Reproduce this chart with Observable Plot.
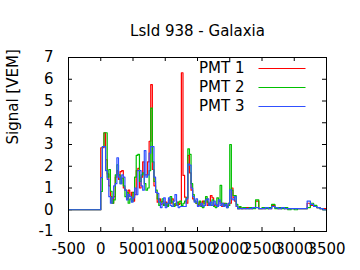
<!DOCTYPE html>
<html><head><meta charset="utf-8">
<script src="https://cdn.jsdelivr.net/npm/d3@7"></script>
<script src="https://cdn.jsdelivr.net/npm/@observablehq/plot@0.6"></script>
<style>html,body{margin:0;padding:0;background:#fff} svg{display:block}</style>
</head><body><div id="chart"></div>
<script>
const title = "LsId 938 - Galaxia";
const yLabel = "Signal [VEM]";
const seriesNames = ["PMT 1", "PMT 2", "PMT 3"];
const seriesColors = ["#ff0000", "#00c000", "#3050ff"];
const xTicks = [-500, 0, 500, 1000, 1500, 2000, 2500, 3000, 3500];
const yTicks = [-1, 0, 1, 2, 3, 4, 5, 6, 7];
const traceEnd = 3500;
const binStart = [-500,
  0, 25, 50, 75, 100, 125, 150, 175, 200, 225, 250, 275, 300, 325, 350, 375, 400, 425, 450, 475,
  500, 525, 550, 575, 600, 625, 650, 675, 700, 725, 750, 775, 800, 825, 850, 875, 900, 925, 950, 975,
  1000, 1025, 1050, 1075, 1100, 1125, 1150, 1175, 1200, 1225, 1250, 1275, 1300, 1325, 1350, 1375, 1400, 1425, 1450, 1475,
  1500, 1525, 1550, 1575, 1600, 1625, 1650, 1675, 1700, 1725, 1750, 1775, 1800, 1825, 1850, 1875, 1900, 1925, 1950, 1975,
  2000, 2025, 2050, 2075, 2100, 2125, 2150, 2175,
  2200, 2250, 2300, 2350, 2400, 2450, 2500, 2550, 2600, 2650, 2700, 2750, 2800, 2850, 2900, 2950,
  3000, 3050, 3100, 3150, 3200, 3250, 3300, 3350, 3400, 3450];
const pmt1 = [0,
  2.85, 2.85, 3.54, 2.3, 1.65, 1.1, 0.6, 0.3, 0.6, 1.5, 1.8, 1.4, 1.75, 1.8, 1.0, 0.9, 0.5, 0.9, 0.6, 0.8,
  0.4, 0.7, 1.8, 1.9, 1.0, 1.5, 2.2, 1.6, 1.6, 2.2, 3.15, 5.75, 1.85, 1.1, 0.8, 0.35, 0.5, 0.25, 0.4, 0.2,
  0.35, 0.2, 0.45, 0.3, 0.5, 0.25, 0.2, 0.35, 0.25, 0.3, 6.3, 1.58, 0.58, 0.3, 2.5, 1.7, 0.9, 0.5, 0.4, 0.3,
  0.2, 0.35, 0.2, 0.4, 0.3, 0.5, 0.2, 0.3, 0.65, 0.55, 0.2, 0.25, 0.15, 0.4, 0.3, 0.15, 0.3, 0.2, 0.15, 0.3,
  0.3, 1.0, 0.55, 0.4, 0.15, 0.05, 0.1, 0.05,
  0.05, 0.1, 0.05, 0.1, 0.4, 0.05, 0.05, 0.1, 0.05, 0.2, 0.1, 0.05, 0.1, 0.05, 0.05, 0.05,
  0.05, 0.05, 0.05, 0.05, 0.3, 0.2, 0.15, 0.1, 0.05, 0.05];
const pmt2 = [0,
  0.84, 2.9, 3.54, 3.54, 1.5, 1.85, 0.85, 0.3, 0.45, 1.6, 2.07, 1.6, 1.2, 1.45, 1.1, 0.6, 0.8, 0.3, 0.5, 0.4,
  0.8, 1.5, 2.5, 2.55, 1.3, 1.6, 1.7, 1.2, 0.9, 1.0, 1.8, 4.67, 2.2, 1.3, 0.9, 0.5, 0.2, 0.35, 0.5, 0.2,
  0.3, 0.15, 0.3, 0.6, 0.35, 0.15, 0.3, 0.2, 0.35, 0.4, 0.2, 0.3, 0.4, 0.55, 2.8, 2.55, 1.2, 0.7, 0.4, 0.3,
  0.25, 0.4, 0.15, 0.1, 0.4, 0.6, 0.35, 0.25, 0.2, 0.45, 0.15, 0.1, 0.55, 0.4, 1.12, 0.3, 0.2, 0.3, 0.1, 0.2,
  3.0, 0.9, 0.65, 0.65, 0.25, 0.05, 0.15, 0.05,
  0.1, 0.05, 0.1, 0.05, 0.45, 0.05, 0.1, 0.05, 0.1, 0.25, 0.05, 0.1, 0.05, 0.1, 0.0, 0.05,
  0.0, 0.05, 0.05, 0.05, 0.1, 0.3, 0.2, 0.1, 0.05, 0.0];
const pmt3 = [0,
  1.48, 2.9, 2.9, 1.8, 1.4, 0.6, 0.3, 0.55, 1.1, 1.2, 2.39, 1.5, 1.2, 1.6, 1.5, 0.9, 0.45, 0.7, 0.6, 0.35,
  0.55, 1.0, 0.7, 1.8, 1.8, 1.1, 0.9, 2.72, 1.5, 1.6, 2.6, 2.9, 2.9, 1.5, 0.8, 0.75, 0.35, 0.1, 0.3, 0.55,
  0.1, 0.3, 0.55, 0.2, 0.15, 0.4, 0.7, 0.2, 0.1, 0.15, 0.15, 0.15, 0.15, 0.5, 2.1, 2.05, 1.0, 0.6, 0.35, 0.5,
  0.15, 0.2, 0.3, 0.15, 0.2, 0.45, 0.5, 0.2, 0.35, 0.2, 0.4, 0.25, 0.15, 0.45, 0.2, 0.3, 0.15, 0.25, 0.1, 0.3,
  0.92, 0.5, 0.45, 0.6, 0.15, 0.05, 0.05, 0.05,
  0.05, 0.05, 0.05, 0.1, 0.1, 0.05, 0.05, 0.1, 0.05, 0.15, 0.1, 0.05, 0.1, 0.05, 0.05, 0.05,
  0.05, 0.05, 0.05, 0.05, 0.4, 0.25, 0.15, 0.1, 0.05, 0.0];

const seriesValues = [pmt1, pmt2, pmt3];
const rows = [];
seriesNames.forEach((name, k) => {
  const vals = seriesValues[k];
  binStart.forEach((t, i) => rows.push({t, v: vals[i], s: name}));
  rows.push({t: traceEnd, v: vals[vals.length - 1], s: name});
});

const W = 360, H = 270, mL = 68, mR = 34, mT = 57, mB = 39;
const frameW = W - mL - mR, frameH = H - mT - mB, tick = 4;
const px = d3.scaleLinear([xTicks[0], xTicks[xTicks.length - 1]], [mL, W - mR]);
const py = d3.scaleLinear([yTicks[0], yTicks[yTicks.length - 1]], [H - mB, mT]);
const legend = seriesNames.map((name, i) => ({
  name,
  tx: px.invert(244), x1: px.invert(258), x2: px.invert(305), y: py.invert(68 + 19 * i)
}));

const chart = Plot.plot({
  width: W, height: H,
  marginLeft: mL, marginRight: mR, marginTop: mT, marginBottom: mB,
  style: {fontFamily: "'DejaVu Sans', sans-serif", fontSize: "15px", color: "black", background: "white"},
  x: {domain: [xTicks[0], xTicks[xTicks.length - 1]]},
  y: {domain: [yTicks[0], yTicks[yTicks.length - 1]]},
  color: {domain: seriesNames, range: seriesColors},
  marks: [
    Plot.ruleX(xTicks, {insetTop: frameH - tick, stroke: "black"}),
    Plot.ruleX(xTicks, {insetBottom: frameH - tick, stroke: "black"}),
    Plot.ruleY(yTicks, {insetRight: frameW - tick, stroke: "black"}),
    Plot.ruleY(yTicks, {insetLeft: frameW - tick, stroke: "black"}),
    Plot.axisX({ticks: xTicks, tickSize: 0, tickPadding: 12, tickFormat: d => String(d), fontSize: 15}),
    Plot.axisY({ticks: yTicks, tickSize: 0, tickPadding: 15, tickFormat: d => String(d), fontSize: 15}),
    Plot.line(rows, {x: "t", y: "v", z: "s", stroke: "s", curve: "step-after", strokeWidth: 1.2}),
    Plot.frame({stroke: "black", strokeWidth: 1}),
    Plot.text([title], {text: d => d, frameAnchor: "top", dy: -32, fontSize: 15}),
    Plot.text([yLabel], {text: d => d, frameAnchor: "left", dx: -55, rotate: -90, fontSize: 15}),
    Plot.text(legend, {x: "tx", y: "y", text: "name", textAnchor: "end", fontSize: 15}),
    Plot.link(legend, {x1: "x1", x2: "x2", y1: "y", y2: "y", stroke: d => d.name, strokeWidth: 1.2})
  ]
});
document.getElementById("chart").appendChild(chart);
</script>
</body></html>
